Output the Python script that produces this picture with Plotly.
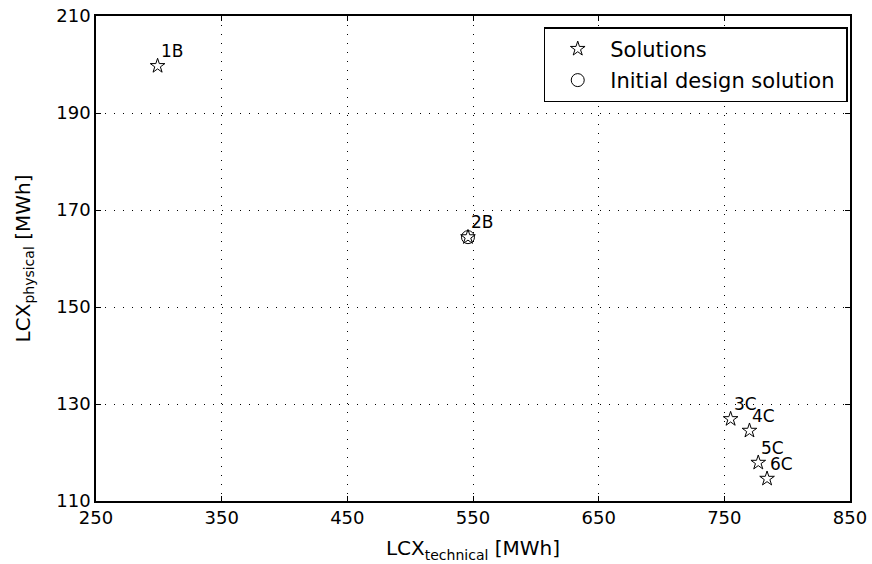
import plotly.graph_objects as go

labels = ["1B", "2B", "3C", "4C", "5C", "6C"]
lcx_technical = [299, 546, 755, 770, 777, 784]
lcx_physical = [199.7, 164.4, 126.9, 124.5, 117.9, 114.6]
initial_x = [546]
initial_y = [164.4]
x_ticks = [250, 350, 450, 550, 650, 750, 850]
y_ticks = [110, 130, 150, 170, 190, 210]

FONT = "DejaVu Sans"
NBSP = "\u00a0"

fig = go.Figure()
fig.add_trace(go.Scatter(
    x=lcx_technical, y=lcx_physical, mode="markers", name="Solutions" + NBSP, legendgroup="a",
    marker=dict(symbol="star-open", size=11, color="black", line=dict(width=1, color="black")),
))
fig.add_trace(go.Scatter(
    x=initial_x, y=initial_y, mode="markers", name="Initial design solution" + NBSP, legendgroup="b",
    marker=dict(symbol="circle-open", size=13, color="black", line=dict(width=1, color="black")),
))
for lab, x, y in zip(labels, lcx_technical, lcx_physical):
    fig.add_annotation(x=x, y=y, text=lab, showarrow=False, xanchor="left", yanchor="bottom",
                       xshift=1, yshift=3, font=dict(family=FONT, size=17, color="black"))

axis_common = dict(
    showline=True, linecolor="black", linewidth=1.5, mirror="ticks",
    ticks="inside", ticklen=5, tickcolor="black", automargin=False,
    showgrid=True, gridcolor="black", griddash="1px,8px", gridwidth=1,
    zeroline=False, tickfont=dict(family=FONT, size=18, color="black"),
)
fig.update_xaxes(range=[250, 850], tickvals=x_ticks, ticktext=[str(v) for v in x_ticks],
                 title=dict(text="LCX<sub>technical</sub> [MWh]", font=dict(family=FONT, size=20, color="black"), standoff=14),
                 **axis_common)
fig.update_yaxes(range=[110, 210], tickvals=y_ticks, ticktext=[str(v) for v in y_ticks],
                 title=dict(text="LCX<sub>physical</sub> [MWh]", font=dict(family=FONT, size=20, color="black"), standoff=20),
                 **axis_common)
fig.update_layout(
    width=872, height=564, margin=dict(l=96, r=22, t=16, b=63),
    plot_bgcolor="white", paper_bgcolor="white",
    showlegend=True,
    legend=dict(x=0.997, y=0.977, xanchor="right", yanchor="top", bordercolor="black", borderwidth=1.5,
                bgcolor="white", font=dict(family=FONT, size=21, color="black"),
                itemwidth=55, tracegroupgap=1),
)
fig.write_html("out.html")
